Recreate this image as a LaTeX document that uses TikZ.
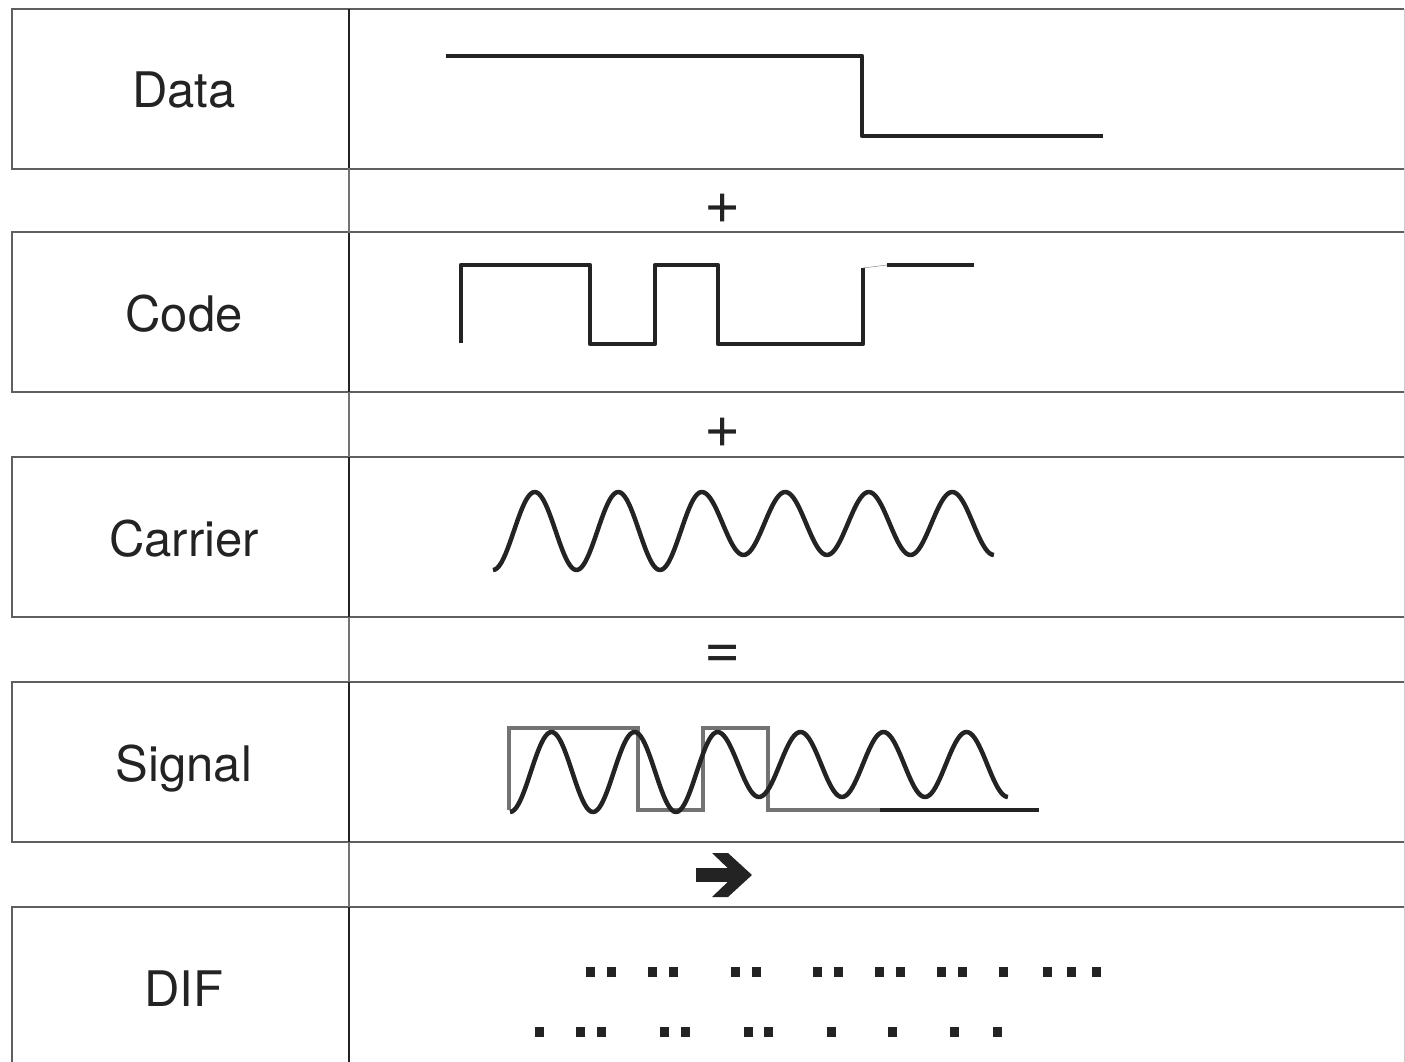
\documentclass[tikz,border=0pt]{standalone}
\usepackage{fontspec}
\setmainfont{TeX Gyre Heros}
\usetikzlibrary{positioning}
\definecolor{lineblack}{RGB}{35,35,35}
\definecolor{framegray}{RGB}{95,95,95}
\definecolor{codegray}{RGB}{115,115,115}

\begin{document}
\begin{tikzpicture}[x=1pt,y=-1pt,
    rowline/.style={framegray, line width=1.8pt},
    wave/.style={lineblack, line width=4.5pt, line join=round},
    rowlabel/.style={anchor=base, inner sep=0pt, font=\fontsize{49}{57}\selectfont, text=lineblack},
    opsign/.style={inner sep=0pt, font=\fontsize{62}{70}\selectfont, text=lineblack}]
    \useasboundingbox (0,0) rectangle (1405,1062);

    % Table rows
    \foreach \rowy/\txt/\nm in {9/Data/data,232/Code/code,457/Carrier/carrier,682/Signal/signal,907/DIF/dif} {
        \draw[rowline] (1404,\rowy) -- (12,\rowy) -- (12,\rowy+160) -- (1404,\rowy+160);
        \draw[lineblack, line width=1.7pt] (349,\rowy) -- (349,\rowy+160);
        \node[rowlabel] (\nm) at (184,\rowy+99) {\txt};
    }
    \draw[black!20, line width=1pt] (1404,9) -- (1404,1062);

    % Divider in the gaps
    \foreach \gapy in {168,392,617,842} {
        \draw[black!55, line width=1.2pt] (349,\gapy) -- (349,\gapy+65);
    }

    % Operators
    \node[opsign] (plusone) at (723,209) {+};
    \node[opsign] (plustwo) at (723,433) {+};
    \node[opsign] (equals) at (723,657) {=};

    % Arrow
    \draw[lineblack, line width=14pt] (696,875) -- (735,875);
    \fill[lineblack] (712,853) -- (728,853) -- (752,875) -- (728,897) -- (712,897) -- (735,875) -- cycle;

    % Data
    \draw[wave] (446,56) -- (862,56) -- (862,136) -- (1103,136);

    % Code
    \draw[wave] (461,343) -- (461,265) -- (590,265) -- (590,344) -- (655,344) -- (655,265)
        -- (718,265) -- (718,344) -- (863,344) -- (863,268);
    \draw[codegray, thin] (863,268) -- (887,265);
    \draw[wave] (887,265) -- (974,265);

    % Carrier
    \draw[wave] plot[domain=0:12, samples=241] ({493+41.75*\x}, {492+ifthenelse(\x<5,78,63)*(1+cos(180*\x))/2});

    % Signal
    \draw[codegray, line width=3.8pt] (509,810) -- (509,728) -- (638,728) -- (638,810) -- (703,810)
        -- (703,728) -- (768,728) -- (768,810) -- (880,810);
    \draw[wave] (880,810) -- (1039,810);
    \draw[wave] plot[domain=0:12, samples=241] ({510+41.5*\x}, {732+ifthenelse(\x<5,80,65)*(1+cos(180*\x))/2});

    % DIF
    \foreach \x in {590,611,652,673,735,756,817,838,879,900,941,962,1003,1047,1071,1096} {
        \fill[lineblack] (\x-4.5,967) rectangle (\x+4.5,977);
    }
    \foreach \x in {539,580,601,664,685,748,768,831,892,954,997} {
        \fill[lineblack] (\x-4.5,1027) rectangle (\x+4.5,1037);
    }
\end{tikzpicture}
\end{document}
